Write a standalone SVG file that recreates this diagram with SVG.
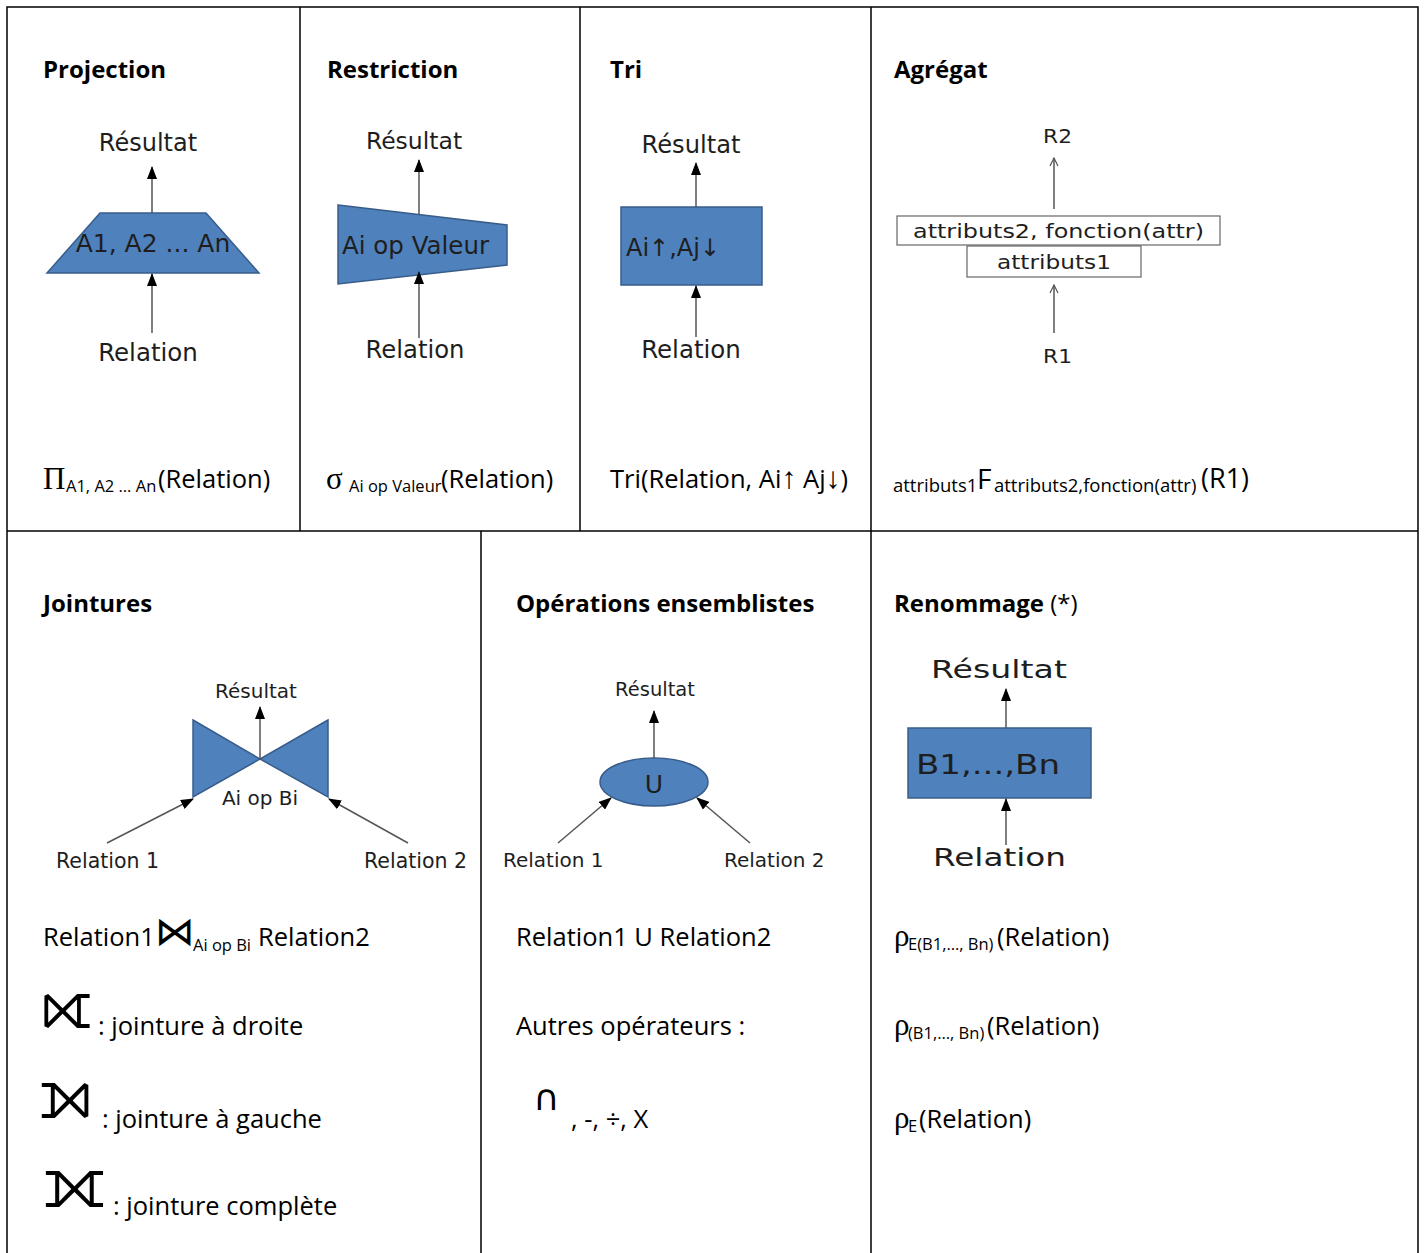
<svg xmlns="http://www.w3.org/2000/svg" width="1426" height="1253" viewBox="0 0 1426 1253">
<style>
.h{font-family:"Open Sans","Liberation Sans",sans-serif;font-weight:bold;font-size:24px;fill:#000}
.f{font-family:"Open Sans","Liberation Sans",sans-serif;font-size:25.5px;fill:#000}
.s{font-size:16.5px}
.g{font-family:"Liberation Serif","DejaVu Serif",serif;font-size:31px}
.d{font-family:"DejaVu Sans",sans-serif;fill:#1e1e1e}
.sym{font-family:"DejaVu Sans",sans-serif;fill:#000}
.shape{fill:#4F81BD;stroke:#385D8A;stroke-width:1.5}
.box{fill:#fff;stroke:#666;stroke-width:1.2}
.ln{stroke:#555;stroke-width:1.5;fill:none}
.grid{stroke:#000;stroke-width:1.5;fill:none}
</style>
<defs>
<marker id="ah" viewBox="0 0 13 10" refX="12" refY="5" markerWidth="13" markerHeight="10" markerUnits="userSpaceOnUse" orient="auto"><path d="M0,0 L13,5 L0,10 z" fill="#000"/></marker>
<marker id="oa" viewBox="0 0 10 10" refX="9" refY="5" markerWidth="10" markerHeight="10" markerUnits="userSpaceOnUse" orient="auto"><path d="M1,1 L9,5 L1,9" fill="none" stroke="#555" stroke-width="1.2"/></marker>
</defs>
<rect width="1426" height="1253" fill="#fff"/>
<g id="grid" class="grid">
<path d="M7,1253 V7 H1418 V1253"/>
<path d="M7,531 H1418"/>
<path d="M300,7 V531 M580,7 V531 M871,7 V1253 M481,531 V1253"/>
</g>

<g id="projection">
<text class="h" x="43" y="78">Projection</text>
<polygon class="shape" points="100,213 206,213 259,273 47,273"/>
<text class="d" x="148" y="151" font-size="24" text-anchor="middle">Résultat</text>
<text class="d" x="153" y="252" font-size="25" text-anchor="middle">A1, A2 ... An</text>
<text class="d" x="148" y="361" font-size="24.5" text-anchor="middle">Relation</text>
<text class="f"><tspan class="g" x="43" y="489">Π</tspan><tspan class="s" x="66" y="492">A1, A2 … An</tspan><tspan x="158" y="488">(Relation)</tspan></text>
</g>

<g id="restriction">
<text class="h" x="327" y="78">Restriction</text>
<polygon class="shape" points="338,205 507,225 507,265 338,284"/>
<text class="d" x="414" y="149" font-size="23.5" text-anchor="middle">Résultat</text>
<text class="d" x="342" y="254" font-size="24.5">Ai op Valeur</text>
<text class="d" x="415" y="358" font-size="24.3" text-anchor="middle">Relation</text>
<text class="f"><tspan class="g" font-size="35" x="326" y="489">σ</tspan><tspan class="s" x="349" y="492">Ai op Valeur</tspan><tspan x="441" y="488">(Relation)</tspan></text>
</g>

<g id="tri">
<text class="h" x="610" y="78">Tri</text>
<rect class="shape" x="621" y="207" width="141" height="78"/>
<text class="d" x="691" y="153" font-size="24.2" text-anchor="middle">Résultat</text>
<text class="d" x="626" y="256" font-size="24">Ai↑,Aj↓</text>
<text class="d" x="691" y="358" font-size="24.5" text-anchor="middle">Relation</text>
<text class="f" x="610" y="488">Tri(Relation, Ai<tspan font-size="30">↑</tspan> Aj<tspan font-size="30">↓</tspan>)</text>
</g>

<g id="agregat">
<text class="h" x="894" y="78">Agrégat</text>
<rect class="box" x="897" y="216" width="323" height="29"/>
<rect class="box" x="967" y="246" width="174" height="31"/>
<text class="d" x="1043" y="143" font-size="19" textLength="29" lengthAdjust="spacingAndGlyphs">R2</text>
<text class="d" x="913" y="238" font-size="20" textLength="291" lengthAdjust="spacingAndGlyphs">attributs2, fonction(attr)</text>
<text class="d" x="997" y="269" font-size="20" textLength="114" lengthAdjust="spacingAndGlyphs">attributs1</text>
<text class="d" x="1043" y="363" font-size="19" textLength="29" lengthAdjust="spacingAndGlyphs">R1</text>
<text class="f"><tspan font-size="18.5" x="893" y="492">attributs1</tspan><tspan font-size="28" x="977" y="489">F</tspan><tspan font-size="18.5" x="994" y="492">attributs2,fonction(attr)</tspan><tspan font-size="27" x="1201" y="488">(R1)</tspan></text>
</g>

<g id="jointures">
<text class="h" x="43" y="612">Jointures</text>
<polygon class="shape" points="193,720 260,759 193,797"/>
<polygon class="shape" points="328,720 260,759 328,797"/>
<text class="d" x="256" y="698" font-size="20" text-anchor="middle">Résultat</text>
<text class="d" x="260" y="805" font-size="20" text-anchor="middle">Ai op Bi</text>
<text class="d" x="56" y="868" font-size="20.5">Relation 1</text>
<text class="d" x="364" y="868" font-size="20.5">Relation 2</text>
<text class="f" x="43" y="946">Relation1<tspan class="sym" font-size="40" x="155" y="945">⋈</tspan><tspan class="s" x="193" y="951">Ai op Bi</tspan><tspan x="258" y="946">Relation2</tspan></text>
<text class="sym" x="41" y="1029" font-size="68">⟖</text>
<text class="f" x="98" y="1035">: jointure à droite</text>
<text class="sym" x="39" y="1118" font-size="70">⟕</text>
<text class="f" x="102" y="1128">: jointure à gauche</text>
<text class="sym" x="43" y="1207" font-size="72">⟗</text>
<text class="f" x="113" y="1215">: jointure complète</text>
</g>

<g id="ensemblistes">
<text class="h" x="516" y="612">Opérations ensemblistes</text>
<ellipse class="shape" cx="654" cy="782" rx="54" ry="24"/>
<text class="d" x="654" y="793" font-size="25" text-anchor="middle">U</text>
<text class="d" x="655" y="696" font-size="19.5" text-anchor="middle">Résultat</text>
<text class="d" x="503" y="867" font-size="20">Relation 1</text>
<text class="d" x="724" y="867" font-size="20">Relation 2</text>
<text class="f" x="516" y="946">Relation1 U Relation2</text>
<text class="f" x="516" y="1035">Autres opérateurs :</text>
<text class="sym" x="533" y="1110" font-size="36">∩</text>
<text class="f" x="571" y="1128">, -, ÷, X</text>
</g>

<g id="renommage">
<text class="h" x="894" y="612">Renommage<tspan font-weight="normal"> (*)</tspan></text>
<rect class="shape" x="908" y="728" width="183" height="70"/>
<text class="d" x="931" y="678" font-size="25" textLength="136" lengthAdjust="spacingAndGlyphs">Résultat</text>
<text class="d" x="916" y="774" font-size="26" textLength="144" lengthAdjust="spacingAndGlyphs">B1,...,Bn</text>
<text class="d" x="933" y="866" font-size="25" textLength="133" lengthAdjust="spacingAndGlyphs">Relation</text>
<text class="f"><tspan class="g" font-size="28" x="894" y="946">ρ</tspan><tspan class="s" x="908" y="950">E(B1,…, Bn)</tspan><tspan x="997" y="946">(Relation)</tspan></text>
<text class="f"><tspan class="g" font-size="28" x="894" y="1035">ρ</tspan><tspan class="s" x="908" y="1039">(B1,…, Bn)</tspan><tspan x="987" y="1035">(Relation)</tspan></text>
<text class="f"><tspan class="g" font-size="28" x="894" y="1128">ρ</tspan><tspan class="s" x="908" y="1132">E</tspan><tspan x="919" y="1128">(Relation)</tspan></text>
</g>

<g id="connectors" class="ln">
<line x1="152" y1="213" x2="152" y2="167" marker-end="url(#ah)"/>
<line x1="152" y1="333" x2="152" y2="274" marker-end="url(#ah)"/>
<line x1="419" y1="214" x2="419" y2="160" marker-end="url(#ah)"/>
<line x1="419" y1="338" x2="419" y2="272" marker-end="url(#ah)"/>
<line x1="696" y1="207" x2="696" y2="163" marker-end="url(#ah)"/>
<line x1="696" y1="337" x2="696" y2="286" marker-end="url(#ah)"/>
<line x1="1054" y1="209" x2="1054" y2="158" marker-end="url(#oa)"/>
<line x1="1054" y1="333" x2="1054" y2="285" marker-end="url(#oa)"/>
<line x1="260" y1="759" x2="260" y2="707" marker-end="url(#ah)"/>
<line x1="107" y1="843" x2="193" y2="799" marker-end="url(#ah)"/>
<line x1="408" y1="843" x2="329" y2="799" marker-end="url(#ah)"/>
<line x1="654" y1="758" x2="654" y2="711" marker-end="url(#ah)"/>
<line x1="558" y1="843" x2="611" y2="798" marker-end="url(#ah)"/>
<line x1="750" y1="843" x2="697" y2="798" marker-end="url(#ah)"/>
<line x1="1006" y1="728" x2="1006" y2="689" marker-end="url(#ah)"/>
<line x1="1006" y1="845" x2="1006" y2="799" marker-end="url(#ah)"/>
</g>
</svg>
